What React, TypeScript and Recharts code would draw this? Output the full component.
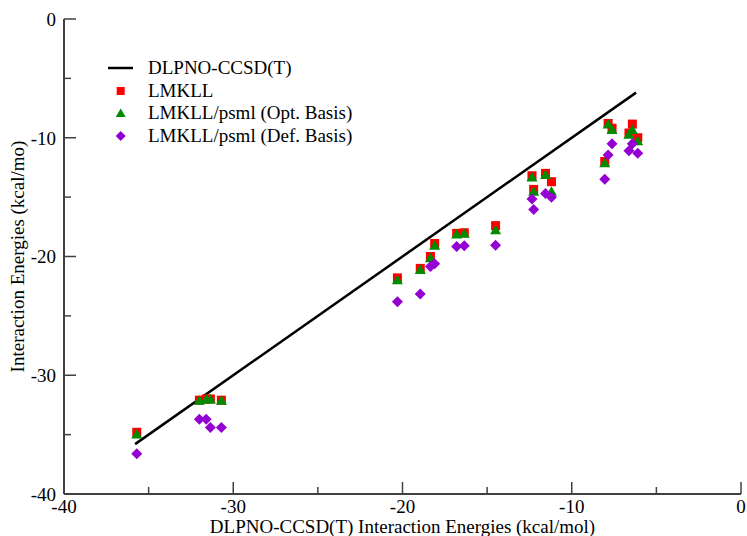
import React from 'react';
import { ScatterChart, Scatter, XAxis, YAxis, Legend } from 'recharts';

// DLPNO-CCSD(T) reference energies (x) for each system
const systemsX = [-35.7, -32.0, -31.6, -31.35, -30.7, -20.3, -18.95, -18.35, -18.1, -16.8, -16.35, -14.5, -12.35, -12.25, -11.55, -11.2, -8.05, -7.85, -7.62, -6.62, -6.42, -6.1];
// LMKLL
const lmkll = [-34.8, -32.1, -32.0, -32.0, -32.1, -21.8, -21.0, -20.0, -18.9, -18.05, -18.0, -17.4, -13.2, -14.35, -13.0, -13.7, -12.0, -8.8, -9.2, -9.6, -8.85, -10.0];
// LMKLL/psml (Opt. Basis)
const optBasis = [-34.95, -32.1, -32.0, -32.0, -32.1, -21.95, -21.1, -20.1, -19.05, -18.1, -18.05, -17.75, -13.3, -14.5, -13.1, -14.5, -12.1, -8.85, -9.3, -9.7, -9.3, -10.25];
// LMKLL/psml (Def. Basis)
const defBasis = [-36.6, -33.7, -33.7, -34.4, -34.4, -23.8, -23.15, -20.85, -20.6, -19.15, -19.1, -19.05, -15.15, -16.05, -14.7, -15.0, -13.5, -11.45, -10.5, -11.1, -10.5, -11.3];
// y = x reference line end points
const refLineX = [-35.8, -6.2];

const xTicks = [-40, -35, -30, -25, -20, -15, -10, -5, 0];
const yTicks = [-40, -35, -30, -25, -20, -15, -10, -5, 0];

const seriesNames = ['DLPNO-CCSD(T)', 'LMKLL', 'LMKLL/psml (Opt. Basis)', 'LMKLL/psml (Def. Basis)'];
const xTitle = 'DLPNO-CCSD(T) Interaction Energies (kcal/mol)';
const yTitle = 'Interaction Energies (kcal/mo)';

const RED = '#ff0000';
const GREEN = '#008b00';
const PURPLE = '#9400d3';
const AXIS = '#404040';
const FONT = '"Liberation Serif", "Times New Roman", serif';
const FS = 19;

const lineData = refLineX.map((v) => ({ x: v, y: v }));
const lmkllData = systemsX.map((x, i) => ({ x, y: lmkll[i] }));
const optData = systemsX.map((x, i) => ({ x, y: optBasis[i] }));
const defData = systemsX.map((x, i) => ({ x, y: defBasis[i] }));

const tickLen = (v: number) => (v % 10 === 0 ? 12 : 7);
const textStyle = { fontFamily: FONT, fontSize: FS, fill: '#000' };

const BottomTick = (props: any) => {
  const { x, y, payload } = props;
  const v = payload.value;
  return (
    <g>
      <line x1={x} x2={x} y1={y} y2={y - tickLen(v)} stroke={AXIS} strokeWidth={1.5} />
      {v % 10 === 0 && (
        <text x={x} y={y} dy={19} textAnchor="middle" style={textStyle}>
          {v}
        </text>
      )}
    </g>
  );
};

const TopTick = (props: any) => {
  const { x, y, payload } = props;
  return <line x1={x} x2={x} y1={y} y2={y + tickLen(payload.value)} stroke={AXIS} strokeWidth={1.5} />;
};

const LeftTick = (props: any) => {
  const { x, y, payload } = props;
  const v = payload.value;
  return (
    <g>
      <line x1={x} x2={x + tickLen(v)} y1={y} y2={y} stroke={AXIS} strokeWidth={1.5} />
      {v % 10 === 0 && (
        <text x={x - 8} y={y} dy="0.36em" textAnchor="end" style={textStyle}>
          {v}
        </text>
      )}
    </g>
  );
};

const RightTick = (props: any) => {
  const { x, y, payload } = props;
  return <line x1={x} x2={x - tickLen(payload.value)} y1={y} y2={y} stroke={AXIS} strokeWidth={1.5} />;
};

const Square = (props: any) => {
  const { cx, cy } = props;
  return <rect x={cx - 4.5} y={cy - 4.5} width={9} height={9} fill={RED} />;
};
const Triangle = (props: any) => {
  const { cx, cy } = props;
  return <polygon points={`${cx - 5.5},${cy + 4.5} ${cx + 5.5},${cy + 4.5} ${cx},${cy - 5}`} fill={GREEN} />;
};
const Diamond = (props: any) => {
  const { cx, cy } = props;
  return <polygon points={`${cx},${cy - 5.5} ${cx + 5.5},${cy} ${cx},${cy + 5.5} ${cx - 5.5},${cy}`} fill={PURPLE} />;
};
const NoShape = () => <g />;

const LegendIcon = ({ idx }: { idx: number }) => {
  const cx = 20.7;
  const cy = 11;
  if (idx === 0) return <line x1={8} x2={33} y1={cy} y2={cy} stroke="#000" strokeWidth={2.5} />;
  if (idx === 1) return <rect x={cx - 4} y={cy - 4} width={8} height={8} fill={RED} />;
  if (idx === 2)
    return <polygon points={`${cx - 5},${cy + 4} ${cx + 5},${cy + 4} ${cx},${cy - 4.5}`} fill={GREEN} />;
  return <polygon points={`${cx},${cy - 5} ${cx + 5},${cy} ${cx},${cy + 5} ${cx - 5},${cy}`} fill={PURPLE} />;
};

const LegendContent = () => (
  <div style={{ fontFamily: FONT, fontSize: FS, color: '#000', lineHeight: '22.5px' }}>
    {seriesNames.map((name, i) => (
      <div key={name} style={{ display: 'flex', alignItems: 'center', height: 22.5, whiteSpace: 'nowrap' }}>
        <svg width={48} height={22} style={{ flex: 'none' }}>
          <LegendIcon idx={i} />
        </svg>
        <span>{name}</span>
      </div>
    ))}
  </div>
);

export default function App() {
  return (
    <div style={{ position: 'absolute', left: 0, top: 0, background: '#fff' }}>
      <ScatterChart width={747} height={536} margin={{ top: 19, right: 6, bottom: 0, left: 0 }}>
        <XAxis
          type="number"
          dataKey="x"
          domain={[-40, 0]}
          ticks={xTicks}
          interval={0}
          allowDataOverflow
          height={42}
          tickSize={0}
          tickMargin={0}
          tickLine={false}
          tick={<BottomTick />}
          axisLine={{ stroke: AXIS, strokeWidth: 2 }}
          label={{ value: xTitle, position: 'insideBottom', offset: 3, fill: '#000', fontFamily: FONT, fontSize: FS, style: { fontFamily: FONT } }}
        />
        <XAxis
          xAxisId="top"
          orientation="top"
          type="number"
          domain={[-40, 0]}
          ticks={xTicks}
          interval={0}
          allowDataOverflow
          height={0}
          tickSize={0}
          tickMargin={0}
          tickLine={false}
          tick={<TopTick />}
          axisLine={{ stroke: AXIS, strokeWidth: 2 }}
        />
        <YAxis
          type="number"
          dataKey="y"
          domain={[-40, 0]}
          ticks={yTicks}
          interval={0}
          allowDataOverflow
          width={64}
          tickSize={0}
          tickMargin={0}
          tickLine={false}
          tick={<LeftTick />}
          axisLine={{ stroke: AXIS, strokeWidth: 2 }}
          label={{
            value: yTitle,
            angle: -90,
            position: 'insideLeft',
            offset: 17.5,
            fill: '#000',
            fontFamily: FONT,
            fontSize: FS,
            style: { textAnchor: 'middle', fontFamily: FONT },
          }}
        />
        <YAxis
          yAxisId="right"
          orientation="right"
          type="number"
          domain={[-40, 0]}
          ticks={yTicks}
          interval={0}
          allowDataOverflow
          width={0}
          tickSize={0}
          tickMargin={0}
          tickLine={false}
          tick={<RightTick />}
          axisLine={{ stroke: AXIS, strokeWidth: 2 }}
        />
        <Legend
          layout="vertical"
          align="center"
          verticalAlign="middle"
          content={<LegendContent />}
          wrapperStyle={{ left: 100, top: 57, width: 340 }}
        />
        <Scatter
          name={seriesNames[0]}
          data={lineData}
          line={{ stroke: '#000', strokeWidth: 2.5 }}
          shape={<NoShape />}
          isAnimationActive={false}
        />
        <Scatter name={seriesNames[1]} data={lmkllData} shape={<Square />} isAnimationActive={false} />
        <Scatter name={seriesNames[2]} data={optData} shape={<Triangle />} isAnimationActive={false} />
        <Scatter name={seriesNames[3]} data={defData} shape={<Diamond />} isAnimationActive={false} />
      </ScatterChart>
    </div>
  );
}
